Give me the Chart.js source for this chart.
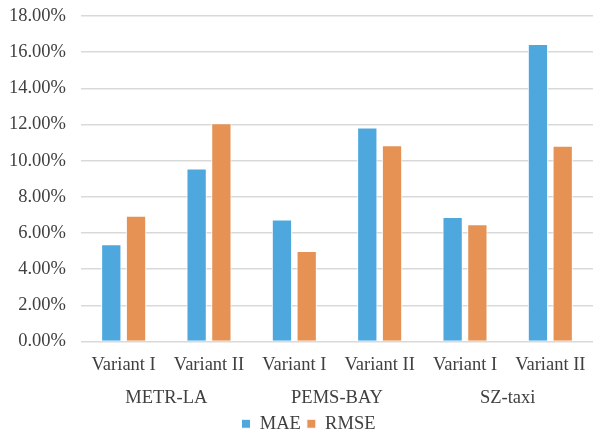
<!DOCTYPE html>
<html>
<head>
<meta charset="utf-8">
<script src="https://cdn.jsdelivr.net/npm/chart.js@4"></script>
<style>
  html, body { margin: 0; padding: 0; background: #fff; }
  #wrap { width: 594px; height: 431px; }
</style>
</head>
<body>
<div id="wrap"><canvas id="c" width="594" height="431"></canvas></div>
<script>
// Error rates (%) per dataset and model variant
const variants = ['Variant I', 'Variant II', 'Variant I', 'Variant II', 'Variant I', 'Variant II'];
const datasetsNames = ['METR-LA', 'PEMS-BAY', 'SZ-taxi'];
const maeValues = [5.38, 9.57, 6.75, 11.83, 6.88, 16.45];
const rmseValues = [6.95, 12.07, 5.01, 10.85, 6.49, 10.82];
const yTicks = [0, 2, 4, 6, 8, 10, 12, 14, 16, 18];

const serif = "'Liberation Serif', 'Times New Roman', serif";
const textColor = '#404040';
const fontSize = 18.5;

// nudge the legend a little to the right of the canvas centre
const legendShift = {
  id: 'legendShift',
  afterLayout(chart) {
    const lg = chart.legend;
    if (lg) { lg.left += 8; lg.right += 8; }
  }
};

new Chart(document.getElementById('c'), {
  type: 'bar',
  data: {
    labels: variants,
    datasets: [
      {
        label: 'MAE',
        data: maeValues,
        backgroundColor: 'rgb(78,167,221)',
        borderColor: '#ffffff',
        borderWidth: 1,
        categoryPercentage: 0.58,
        barPercentage: 0.82
      },
      {
        label: 'RMSE',
        data: rmseValues,
        backgroundColor: 'rgb(230,146,85)',
        borderColor: '#ffffff',
        borderWidth: 1,
        categoryPercentage: 0.58,
        barPercentage: 0.82
      }
    ]
  },
  plugins: [legendShift],
  options: {
    responsive: false,
    animation: false,
    layout: { padding: { top: 16, right: 1, left: 8, bottom: -12 } },
    plugins: {
      legend: {
        position: 'bottom',
        labels: {
          font: { family: serif, size: fontSize },
          color: textColor,
          boxWidth: 9,
          boxHeight: 9,
          padding: 6
        }
      },
      tooltip: { enabled: false }
    },
    scales: {
      y: {
        min: 0,
        max: 18,
        afterBuildTicks: (axis) => { axis.ticks = yTicks.map(v => ({ value: v })); },
        afterFit: (axis) => { axis.width = 73; axis.paddingTop = 0; axis.paddingBottom = 0; },
        ticks: {
          font: { family: serif, size: fontSize },
          color: textColor,
          padding: 15,
          callback: (v) => Number(v).toFixed(2) + '%'
        },
        grid: { color: '#d9d9d9', lineWidth: 1.5, drawTicks: false },
        border: { display: false }
      },
      x: {
        afterFit: (axis) => { axis.height = 34; },
        grid: { display: false },
        border: { display: false },
        ticks: {
          font: { family: serif, size: fontSize },
          color: textColor,
          padding: 5,
          maxRotation: 0,
          autoSkip: false
        }
      },
      x2: {
        type: 'category',
        position: 'bottom',
        labels: datasetsNames,
        offset: true,
        afterFit: (axis) => { axis.height = 33; },
        grid: { display: false },
        border: { display: false },
        ticks: {
          font: { family: serif, size: fontSize },
          color: textColor,
          padding: 4,
          maxRotation: 0
        }
      }
    }
  }
});
</script>
</body>
</html>
